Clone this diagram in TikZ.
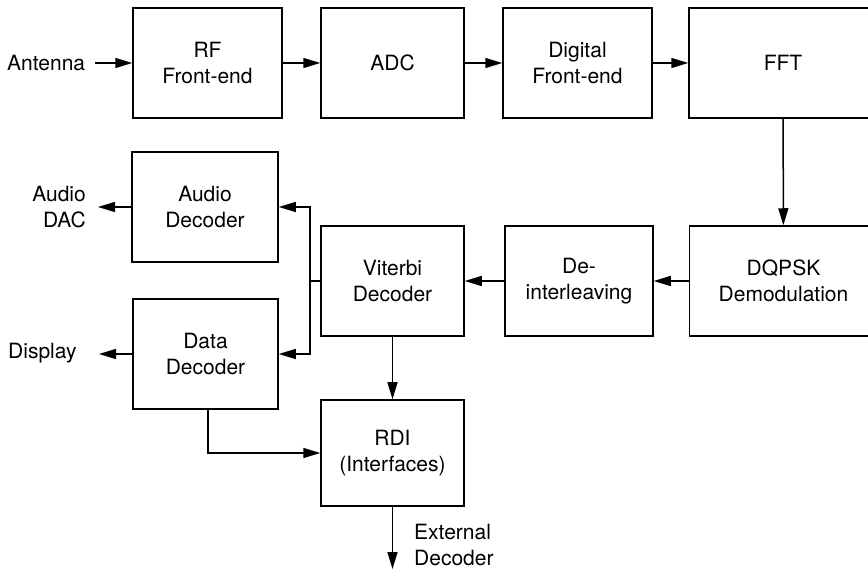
\documentclass[tikz,border=0pt]{standalone}
\usepackage{fontspec}
\setmainfont{TeX Gyre Heros}
\usetikzlibrary{arrows.meta}
\begin{document}
\begin{tikzpicture}[x=1pt,y=-1pt,
  every node/.style={font=\fontsize{21}{26}\selectfont, text=black},
  blk/.style={draw, line width=1.5pt, align=center, inner sep=0pt},
  lbl/.style={inner sep=0pt},
  conn/.style={line width=1.5pt},
  arr/.style={conn, -{Triangle[length=17pt,width=10pt]}}]
\clip (0,0) rectangle (868,569);
\useasboundingbox (0,0) rectangle (868,569);
% row 1
\node[blk, minimum width=149pt, minimum height=110pt] (rf)  at (207.5,63) {RF\\Front-end};
\node[blk, minimum width=143pt, minimum height=110pt] (adc) at (392.5,63) {ADC};
\node[blk, minimum width=149pt, minimum height=110pt] (dfe) at (577.5,63) {Digital\\Front-end};
\node[blk, minimum width=188pt, minimum height=110pt] (fft) at (783,63) {FFT};
% row 2
\node[blk, minimum width=146pt, minimum height=110pt] (audio) at (205,207) {Audio\\Decoder};
\node[blk, minimum width=143pt, minimum height=110pt] (vit)   at (392.5,281) {Viterbi\\Decoder};
\node[blk, minimum width=148pt, minimum height=110pt] (deint) at (579,281) {De-\\interleaving};
\node[blk, minimum width=188pt, minimum height=110pt] (dqpsk) at (783.5,281) {DQPSK\\Demodulation};
\node[blk, minimum width=145pt, minimum height=110pt] (data)  at (205.5,354) {Data\\Decoder};
\node[blk, minimum width=143pt, minimum height=106pt] (rdi)   at (392.5,453) {RDI\\(Interfaces)};
% labels
\node[lbl, anchor=west] (ant) at (7,63) {Antenna};
\node[lbl, anchor=east, align=right] (dac) at (86,207) {Audio\\DAC};
\node[lbl, anchor=west] (disp) at (8,353) {Display};
\node[lbl, anchor=west, align=left] (ext) at (414,545) {External\\Decoder};
\coordinate (antstart) at (95,63);
\coordinate (dacend) at (98,207);
\coordinate (dispend) at (99,354);
\coordinate (bus) at (310,281);
\coordinate (extend) at (392.5,569);
% connectors
\draw[arr] (antstart) -- (rf.west);
\draw[arr] (rf) -- (adc);
\draw[arr] (adc) -- (dfe);
\draw[arr] (dfe) -- (fft);
\draw[arr] (fft) -- (dqpsk);
\draw[arr] (dqpsk) -- (deint);
\draw[arr] (deint) -- (vit);
\draw[conn] (vit.west) -- (bus);
\draw[arr] (bus) |- (audio.east);
\draw[arr] (bus) |- (data.east);
\draw[arr] (audio.west) -- (dacend);
\draw[arr] (data.west) -- (dispend);
\draw[arr] (vit) -- (rdi);
\draw[arr] ([xshift=2.5pt]data.south) |- (rdi.west);
\draw[arr] (rdi.south) -- (extend);
\end{tikzpicture}
\end{document}
